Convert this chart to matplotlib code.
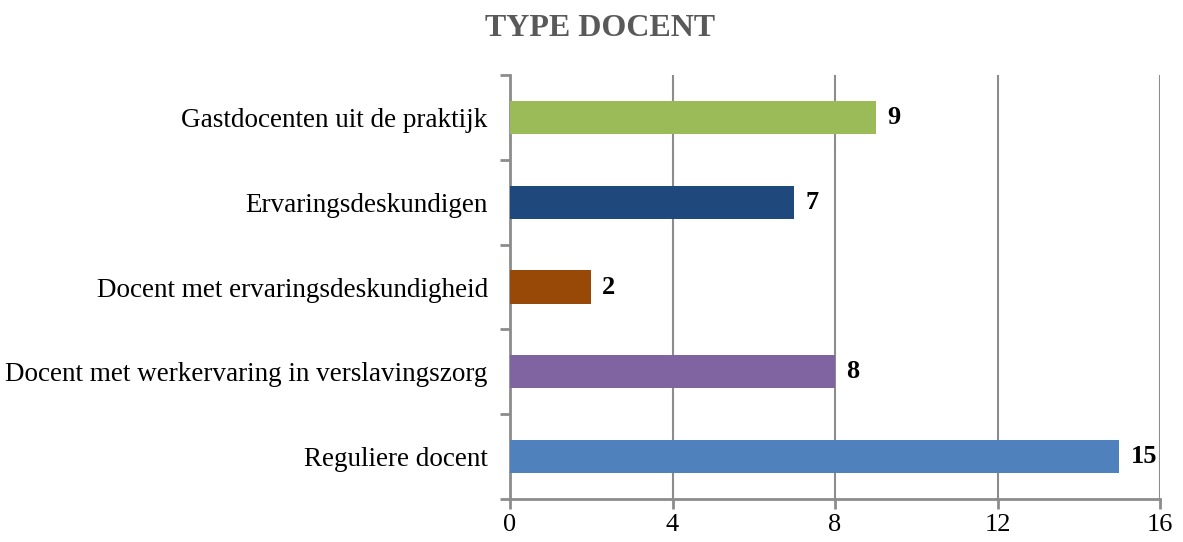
import matplotlib.pyplot as plt

categories = ["Reguliere docent", "Docent met werkervaring in verslavingszorg",
              "Docent met ervaringsdeskundigheid", "Ervaringsdeskundigen",
              "Gastdocenten uit de praktijk"]
values = [15, 8, 2, 7, 9]
colors = ["#4F81BD", "#8064A2", "#984807", "#1F497D", "#9BBB59"]
xticks = [0, 4, 8, 12, 16]

plt.rcParams["font.family"] = ["Liberation Serif", "DejaVu Serif"]

fig = plt.figure(figsize=(11.83, 5.42), dpi=100)
ax = fig.add_axes([0.4311, 0.0793, 0.5495, 0.7823])

pos = range(len(categories))
ax.barh(pos, values, height=0.39, color=colors, zorder=3)
for y, v in zip(pos, values):
    ax.annotate(str(v), (v, y), xytext=(8, 0), textcoords="offset points",
                va="center", ha="left", fontsize=19, fontweight="bold", color="black")

ax.set_xlim(0, 16)
ax.set_ylim(-0.5, len(categories) - 0.5)
ax.set_xticks(xticks)
ax.set_xticklabels([str(t) for t in xticks], fontsize=19)
ax.set_yticks(list(pos))
ax.set_yticklabels(categories, fontsize=19.5)
ax.set_yticks([i - 0.5 for i in range(len(categories) + 1)], minor=True)

grey = "#8C8C8C"
ax.tick_params(axis="y", which="major", length=0, pad=16)
ax.tick_params(axis="y", which="minor", length=7, width=2, color=grey, direction="out")
ax.tick_params(axis="x", length=7, width=2, color=grey, direction="out", pad=4)
ax.grid(axis="x", color=grey, linewidth=1.5, zorder=0)
for s in ["top", "right"]:
    ax.spines[s].set_visible(False)
for s in ["left", "bottom"]:
    ax.spines[s].set_color(grey)
    ax.spines[s].set_linewidth(2)

fig.suptitle("TYPE DOCENT", x=0.507, y=0.975, fontsize=23, fontweight="bold", color="#595959")
fig.savefig("out.png", dpi=100)
